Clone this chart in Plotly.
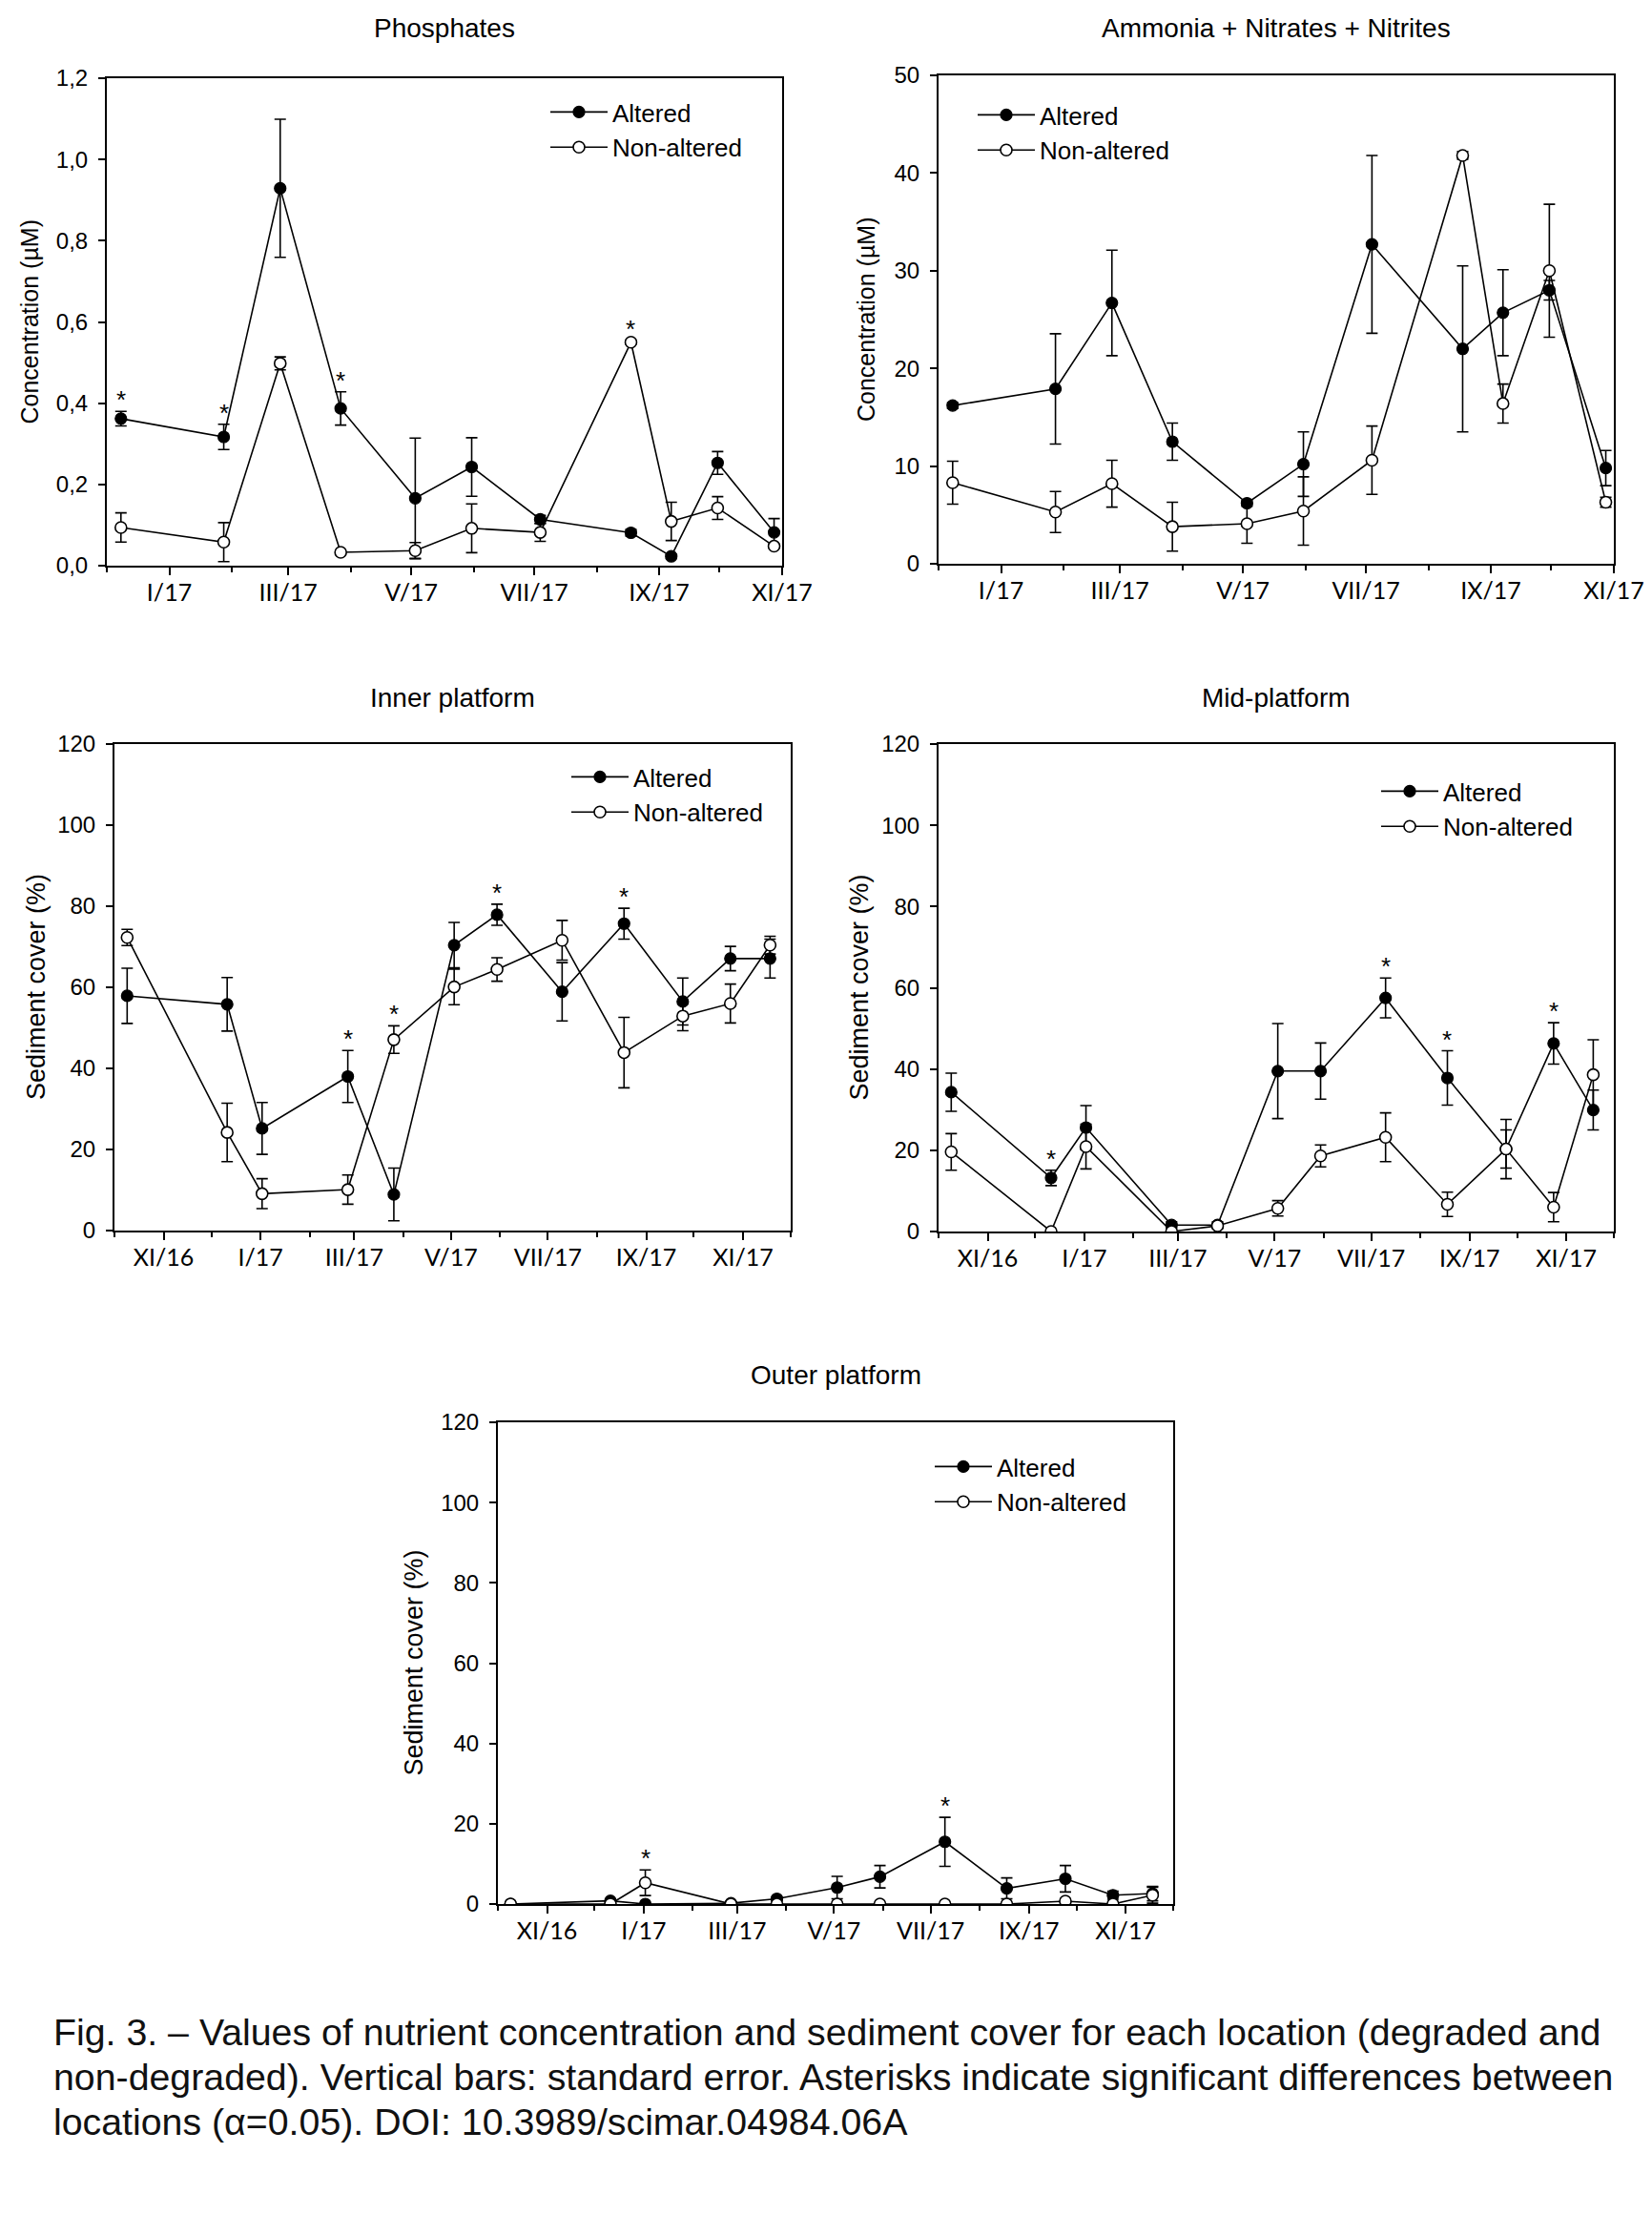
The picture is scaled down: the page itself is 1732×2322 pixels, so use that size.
import plotly.graph_objects as go

W, H = 1732, 2322

# ---------------- DATA ----------------
nutr_dates = ["2016-12-08", "2017-01-28", "2017-02-25", "2017-03-27", "2017-05-03", "2017-05-31",
              "2017-07-04", "2017-08-18", "2017-09-07", "2017-09-30", "2017-10-28"]
sed_dates = ["2016-10-09", "2016-12-11", "2017-01-02", "2017-02-25", "2017-03-26", "2017-05-03",
             "2017-05-30", "2017-07-10", "2017-08-18", "2017-09-24", "2017-10-24", "2017-11-18"]

phos_alt = [0.362, 0.317, 0.929, 0.387, 0.166, 0.243, 0.114, 0.081, 0.023, 0.253, 0.082]
phos_alt_se = [0.018, 0.031, 0.170, 0.041, 0.148, 0.072, 0.010, 0.008, 0.005, 0.028, 0.034]
phos_non = [0.094, 0.058, 0.498, 0.033, 0.037, 0.092, 0.082, 0.550, 0.109, 0.142, 0.048]
phos_non_se = [0.036, 0.048, 0.016, 0.003, 0.020, 0.060, 0.022, 0.005, 0.047, 0.028, 0.005]
phos_sig = [0, 1, 3, 7]

amm_alt = [16.2, 17.9, 26.7, 12.5, 6.2, 10.2, 32.7, 22.0, 25.7, 28.0, 9.8]
amm_alt_se = [0.3, 5.65, 5.4, 1.9, 0.3, 3.3, 9.1, 8.5, 4.4, 1.0, 1.8]
amm_non = [8.3, 5.3, 8.2, 3.8, 4.1, 5.4, 10.6, 41.8, 16.4, 30.0, 6.3]
amm_non_se = [2.2, 2.1, 2.4, 2.5, 2.0, 3.5, 3.5, 0.4, 2.0, 6.8, 0.5]
amm_sig = []

inner_alt = [57.9, 55.8, 25.2, 38.0, 8.9, 70.4, 77.9, 58.9, 75.7, 56.5, 67.1, 67.1]
inner_alt_se = [6.8, 6.6, 6.4, 6.4, 6.5, 5.6, 2.6, 7.2, 3.8, 5.8, 3.0, 4.8]
inner_non = [72.3, 24.2, 9.1, 10.1, 47.1, 60.1, 64.4, 71.6, 43.9, 52.9, 56.0, 70.4]
inner_non_se = [2.0, 7.2, 3.7, 3.6, 3.4, 4.4, 2.9, 4.9, 8.7, 3.6, 4.8, 2.2]
inner_sig = [3, 4, 6, 8]

mid_alt = [34.3, 13.2, 25.6, 1.6, 1.6, 39.5, 39.5, 57.5, 37.8, 20.3, 46.3, 29.9]
mid_alt_se = [4.7, 1.9, 5.4, 0.8, 0.8, 11.7, 6.9, 4.9, 6.7, 7.3, 5.1, 4.9]
mid_non = [19.6, 0.0, 20.9, 0.0, 1.4, 5.7, 18.6, 23.2, 6.7, 20.3, 6.0, 38.6]
mid_non_se = [4.5, 0.0, 5.5, 0.0, 0.5, 1.9, 2.7, 6.0, 3.0, 4.7, 3.6, 8.6]
mid_sig = [1, 7, 8, 10]

outer_alt = [0.0, 0.8, 0.0, 0.2, 1.3, 4.1, 6.8, 15.5, 3.9, 6.3, 2.2, 2.6]
outer_alt_se = [0.0, 0.3, 0.0, 0.2, 0.5, 2.8, 2.8, 6.1, 2.6, 3.3, 1.0, 1.8]
outer_non = [0.0, 0.0, 5.3, 0.0, 0.0, 0.0, 0.0, 0.0, 0.0, 0.7, 0.0, 2.2]
outer_non_se = [0.0, 0.0, 3.2, 0.0, 0.0, 0.0, 0.0, 0.0, 0.0, 0.6, 0.0, 2.0]
outer_sig = [2, 7]

nutr_major = ["2017-01-01", "2017-03-01", "2017-05-01", "2017-07-01", "2017-09-01", "2017-11-01"]
nutr_major_text = ["I/17", "III/17", "V/17", "VII/17", "IX/17", "XI/17"]
nutr_minor = ["2016-12-01", "2017-02-01", "2017-04-01", "2017-06-01", "2017-08-01", "2017-10-01"]
sed_major = ["2016-11-01"] + nutr_major
sed_major_text = ["XI/16"] + nutr_major_text
sed_minor = ["2016-10-01"] + nutr_minor + ["2017-12-01"]

caption_lines = [
    "Fig. 3. – Values of nutrient concentration and sediment cover for each location (degraded and",
    "non-degraded). Vertical bars: standard error. Asterisks indicate significant differences between",
    "locations (\u03b1=0.05). DOI: 10.3989/scimar.04984.06A",
]

# ---------------- LAYOUT SPECS ----------------
panels = [
    dict(title="Phosphates", dates=nutr_dates, alt=phos_alt, alt_se=phos_alt_se, non=phos_non,
         non_se=phos_non_se, sig=phos_sig, box=(112, 82, 820, 593), title_y=30,
         yrange=[0, 1.2], dtick=0.2, tickformat=".1f",
         xrange=["2016-12-01", "2017-11-01"], major=nutr_major, major_text=nutr_major_text,
         minor=nutr_minor, ytitle="Concentration (µM)", ytitle_x=30, ytitle_size=25,
         leg_text_x=644, leg_row1=119),
    dict(title="Ammonia + Nitrates + Nitrites", dates=nutr_dates, alt=amm_alt, alt_se=amm_alt_se,
         non=amm_non, non_se=amm_non_se, sig=amm_sig, box=(984, 79, 1692, 591), title_y=30,
         yrange=[0, 50], dtick=10, tickformat="d",
         xrange=["2016-12-01", "2017-11-01"], major=nutr_major, major_text=nutr_major_text,
         minor=nutr_minor, ytitle="Concentration (µM)", ytitle_x=908, ytitle_size=25,
         leg_text_x=1092, leg_row1=122),
    dict(title="Inner platform", dates=sed_dates, alt=inner_alt, alt_se=inner_alt_se, non=inner_non,
         non_se=inner_non_se, sig=inner_sig, box=(120, 780, 829, 1290), title_y=731,
         yrange=[0, 120], dtick=20, tickformat="d",
         xrange=["2016-10-01", "2017-12-01"], major=sed_major, major_text=sed_major_text,
         minor=sed_minor, ytitle="Sediment cover (%)", ytitle_x=38, ytitle_size=27,
         leg_text_x=666, leg_row1=816),
    dict(title="Mid-platform", dates=sed_dates, alt=mid_alt, alt_se=mid_alt_se, non=mid_non,
         non_se=mid_non_se, sig=mid_sig, box=(984, 780, 1692, 1291), title_y=731,
         yrange=[0, 120], dtick=20, tickformat="d",
         xrange=["2016-10-01", "2017-12-01"], major=sed_major, major_text=sed_major_text,
         minor=sed_minor, ytitle="Sediment cover (%)", ytitle_x=900, ytitle_size=27,
         leg_text_x=1515, leg_row1=831),
    dict(title="Outer platform", dates=sed_dates, alt=outer_alt, alt_se=outer_alt_se, non=outer_non,
         non_se=outer_non_se, sig=outer_sig, box=(522, 1491, 1230, 1996), title_y=1441,
         yrange=[0, 120], dtick=20, tickformat="d",
         xrange=["2016-10-01", "2017-12-01"], major=sed_major, major_text=sed_major_text,
         minor=sed_minor, ytitle="Sediment cover (%)", ytitle_x=433, ytitle_size=27,
         leg_text_x=1047, leg_row1=1539),
]

FONT = "Liberation Sans, Arial, sans-serif"
XFONT = "Lato, Liberation Sans, sans-serif"
LEG_ITEM_W = 60

fig = go.Figure()
annotations = []
layout_updates = {}

for i, p in enumerate(panels, start=1):
    xa = "x" if i == 1 else f"x{i}"
    ya = "y" if i == 1 else f"y{i}"
    leg = "legend" if i == 1 else f"legend{i}"
    x0, y0, x1, y1 = p["box"]

    fig.add_trace(go.Scatter(
        x=p["dates"], y=p["alt"], name="Altered", mode="lines+markers",
        xaxis=xa, yaxis=ya, legend=leg,
        line=dict(color="black", width=1.6),
        marker=dict(symbol="circle", size=12, color="black", line=dict(color="black", width=1.2)),
        error_y=dict(type="data", array=p["alt_se"], visible=True, color="black", thickness=1.6, width=6),
    ))
    fig.add_trace(go.Scatter(
        x=p["dates"], y=p["non"], name="Non-altered", mode="lines+markers",
        xaxis=xa, yaxis=ya, legend=leg,
        line=dict(color="black", width=1.6),
        marker=dict(symbol="circle", size=12, color="white", line=dict(color="black", width=1.6)),
        error_y=dict(type="data", array=p["non_se"], visible=True, color="black", thickness=1.6, width=6),
    ))

    xkey = "xaxis" if i == 1 else f"xaxis{i}"
    ykey = "yaxis" if i == 1 else f"yaxis{i}"
    layout_updates[xkey] = dict(
        domain=[x0 / W, x1 / W], anchor=ya, type="date", range=p["xrange"],
        tickmode="array", tickvals=p["major"], ticktext=p["major_text"],
        ticks="outside", ticklen=8, tickwidth=1.5, tickcolor="black",
        minor=dict(tickmode="array", tickvals=p["minor"], ticks="outside", ticklen=5,
                   tickwidth=1.5, tickcolor="black", showgrid=False),
        showline=True, linewidth=2, linecolor="black", mirror=True,
        showgrid=False, zeroline=False, ticklabelstandoff=-3, automargin=False,
        tickfont=dict(family=XFONT, size=25, color="black"),
    )
    layout_updates[ykey] = dict(
        domain=[1 - y1 / H, 1 - y0 / H], anchor=xa, range=p["yrange"],
        tickmode="linear", tick0=0, dtick=p["dtick"], tickformat=p["tickformat"],
        ticks="outside", ticklen=7, tickwidth=1.5, tickcolor="black",
        showline=True, linewidth=2, linecolor="black", mirror=True,
        showgrid=False, zeroline=False, ticklabelstandoff=6, automargin=False,
        tickfont=dict(family=FONT, size=24, color="black"),
    )
    layout_updates[leg] = dict(
        x=(p["leg_text_x"] - LEG_ITEM_W - 12) / W, xanchor="left",
        y=1 - (p["leg_row1"] - 25) / H, yanchor="top",
        bgcolor="rgba(0,0,0,0)", borderwidth=0,
        font=dict(family=FONT, size=26, color="black"),
        tracegroupgap=0, itemwidth=LEG_ITEM_W,
    )

    # panel title
    annotations.append(dict(
        text=p["title"], xref="paper", yref="paper",
        x=(x0 + x1) / 2 / W, y=1 - p["title_y"] / H, xanchor="center", yanchor="middle",
        showarrow=False, font=dict(family=FONT, size=28, color="black"),
    ))
    # y-axis title
    annotations.append(dict(
        text=p["ytitle"], xref="paper", yref="paper", textangle=-90,
        x=p["ytitle_x"] / W, y=1 - (y0 + y1) / 2 / H, xanchor="center", yanchor="middle",
        showarrow=False, font=dict(family=FONT, size=p["ytitle_size"], color="black"),
    ))
    # significance asterisks
    for k in p["sig"]:
        top = max(p["alt"][k] + p["alt_se"][k], p["non"][k] + p["non_se"][k])
        annotations.append(dict(
            text="*", xref=xa, yref=ya, x=p["dates"][k], y=top,
            xanchor="center", yanchor="bottom", yshift=-5, showarrow=False,
            font=dict(family=FONT, size=26, color="black"),
        ))

caption_baselines = [2143, 2190, 2237]
for line, base in zip(caption_lines, caption_baselines):
    annotations.append(dict(
        text=line, xref="paper", yref="paper", x=54 / W, y=1 - (base - 13) / H,
        xanchor="left", yanchor="middle", showarrow=False, align="left",
        font=dict(family=FONT, size=39.3, color="#111111"),
    ))

fig.update_layout(
    width=W, height=H, margin=dict(l=0, r=0, t=0, b=0, autoexpand=False),
    paper_bgcolor="white", plot_bgcolor="white", separators=",.",
    showlegend=True, annotations=annotations, **layout_updates,
)

fig.write_html("out.html", config={"displayModeBar": False},
               post_script="document.body.style.margin='0';")
